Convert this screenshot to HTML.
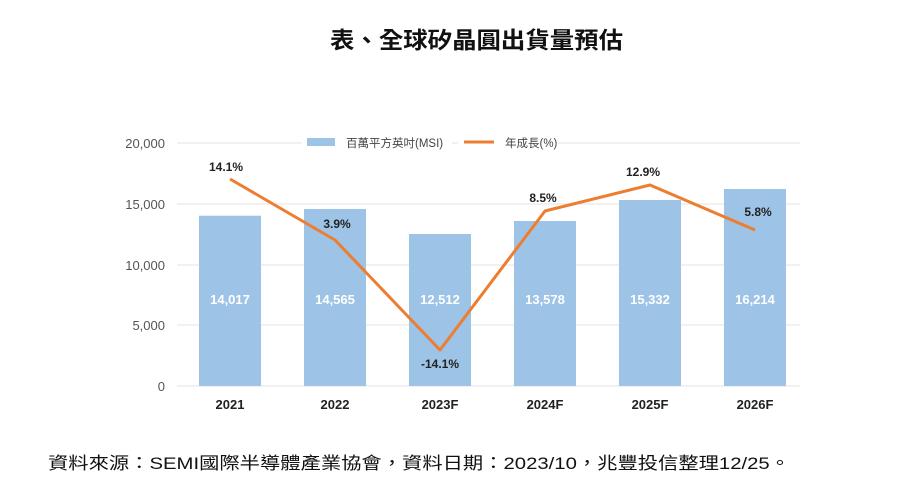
<!DOCTYPE html>
<html><head><meta charset="utf-8"><style>
body{margin:0;background:#fff;width:907px;height:487px;overflow:hidden;font-family:"Liberation Sans","Noto Sans CJK TC",sans-serif}
</style></head><body>
<svg width="907" height="487" xmlns="http://www.w3.org/2000/svg" font-family="Liberation Sans, Noto Sans CJK TC, sans-serif">
<text x="330" y="48" font-size="23" font-weight="bold" fill="#111" textLength="293" lengthAdjust="spacingAndGlyphs">表、全球矽晶圓出貨量預估</text>
<g stroke="#e3e3e3" stroke-width="1">
<line x1="177" x2="800" y1="143" y2="143"/><line x1="177" x2="800" y1="204" y2="204"/>
<line x1="177" x2="800" y1="265" y2="265"/><line x1="177" x2="800" y1="325" y2="325"/>
<line x1="177" x2="800" y1="386" y2="386"/></g>
<g font-size="13" fill="#555" text-anchor="end">
<text x="165" y="148">20,000</text><text x="165" y="209">15,000</text><text x="165" y="270">10,000</text>
<text x="165" y="330">5,000</text><text x="165" y="391">0</text></g>
<rect x="302" y="136" width="150" height="12" fill="#fff"/><rect x="307" y="138" width="28" height="8" fill="#9dc3e6"/>
<text x="346" y="147" font-size="11.5" fill="#444">百萬平方英吋(MSI)</text>
<rect x="458" y="136" width="100" height="12" fill="#fff"/>
<line x1="464" x2="494" y1="142" y2="142" stroke="#ed7d31" stroke-width="3"/>
<text x="505" y="147" font-size="11.5" fill="#444">年成長(%)</text>
<g fill="#9dc3e6">
<rect x="199" y="215.7" width="62" height="170.3"/><rect x="304" y="209" width="62" height="177"/>
<rect x="409" y="234" width="62" height="152"/><rect x="514" y="221" width="62" height="165"/>
<rect x="619" y="200" width="62" height="186"/><rect x="724" y="189" width="62" height="197"/></g>
<g fill="#fff" font-size="13" font-weight="bold" text-anchor="middle">
<text x="230" y="304">14,017</text><text x="335" y="304">14,565</text><text x="440" y="304">12,512</text>
<text x="545" y="304">13,578</text><text x="650" y="304">15,332</text><text x="755" y="304">16,214</text></g>
<polyline points="230,179 335,240 440,350 545,211 650,185 755,230" fill="none" stroke="#ed7d31" stroke-width="3" stroke-linejoin="round"/>
<g fill="#222" font-size="12" font-weight="bold" text-anchor="middle">
<text x="226" y="171">14.1%</text><text x="337" y="228">3.9%</text><text x="440" y="368">-14.1%</text>
<text x="543" y="202">8.5%</text><text x="643" y="176">12.9%</text><text x="758" y="216">5.8%</text></g>
<g fill="#222" font-size="13" font-weight="bold" text-anchor="middle">
<text x="230" y="409">2021</text><text x="335" y="409">2022</text><text x="440" y="409">2023F</text>
<text x="545" y="409">2024F</text><text x="650" y="409">2025F</text><text x="755" y="409">2026F</text></g>
<text x="48" y="469" font-size="17" fill="#111" textLength="742" lengthAdjust="spacingAndGlyphs">資料來源：SEMI國際半導體產業協會，資料日期：2023/10，兆豐投信整理12/25。</text>
</svg>
</body></html>
